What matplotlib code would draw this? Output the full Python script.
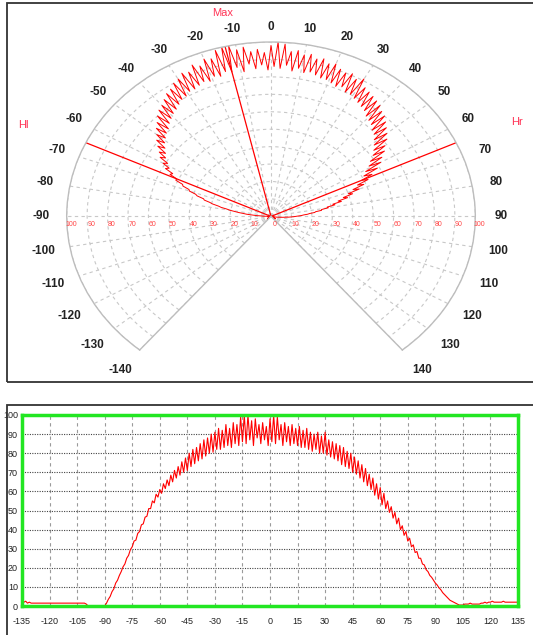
import numpy as np
import matplotlib
matplotlib.use("Agg")
import matplotlib.pyplot as plt
from matplotlib.patches import Rectangle
from matplotlib import transforms

plt.rcParams['font.family'] = ['Liberation Sans', 'DejaVu Sans']
plt.rcParams['axes.unicode_minus'] = False

# measured intensity, one value per degree from -135 to 135
left_tail = [2.5, 2, 2.5, 1.5, 2, 1.5, 1.5, 1.5, 1.5, 1.5,
             1.5, 1.5, 1.5, 1.5, 1.5, 1.5, 1.5, 1.5, 1.5, 1.5,
             1.5, 1.5, 1.5, 1.5, 1.5, 1.5, 1.5, 1.5, 1.5, 1.5,
             1.5, 1.5, 1.5, 1.5, 1.5, 1]                     # -135 .. -100
gap = [0, 0, 0, 0, 0, 0, 0, 0, 0]                             # -99 .. -91
main_lobe = [0, 1.5, 3.5, 5, 7.5, 9, 12, 13.5, 16, 18,        # -90
             20.5, 22, 25, 26.5, 29.5, 31, 34, 34.5, 38, 39,  # -80
             42.5, 43, 46.5, 47, 51, 51, 55, 54, 58.5, 57,    # -70
             61, 59, 64, 61.5, 66, 63, 68.5, 65, 71, 67,      # -60
             73, 68.5, 75.5, 70, 77.5, 71, 80, 73, 82, 74.5,  # -50
             83, 76, 85, 77, 87, 78.5, 88, 80, 90, 80.5,      # -40
             91, 82, 93, 82, 92, 83, 95, 84, 93, 83,          # -30
             96, 85, 95, 84, 99, 86, 100, 85, 100, 87,        # -20
             97, 84, 98, 88, 95, 85, 96, 87, 94, 84,          # -10
             98, 86, 100, 85, 99, 87, 95, 84, 96, 86,         # 0
             94, 84, 95, 85, 93, 84, 94, 83, 92, 83,          # 10
             93, 82, 91, 81, 90, 82, 91, 80, 89, 80,          # 20
             91, 79, 87, 78, 86, 77, 85, 76, 84, 74,          # 30
             83, 73, 81, 72, 80, 70, 78, 69, 76, 67,          # 40
             74, 65, 72, 63, 69, 61, 67, 58, 64, 56,          # 50
             62, 53, 59, 51, 55, 49, 52, 46, 49, 43,          # 60
             46, 40, 42, 37, 39, 34, 35.5, 31, 32, 28,        # 70
             28.5, 25, 25, 22, 21.5, 19, 18, 16, 15, 13.5,    # 80
             12, 11, 9.5, 8.5, 7, 6, 5, 4, 3, 2.5,            # 90
             2, 1.5, 1, 0.5, 0.5, 0.5]                        # 100 .. 105
right_tail = [1, 1, 1, 1.5, 1, 1, 1, 1, 1, 1.5,
              1.5, 2, 1.5, 2, 2, 2.5, 2, 2, 2, 2,
              2, 2.5, 2, 2, 2, 2, 2, 2, 2, 2]                 # 106 .. 135

angles = np.arange(-135, 136)
intensity = np.array(left_tail + gap + main_lobe + right_tail, dtype=float)

max_angle = -13
hl_angle = -65
hr_angle = 65
theta_ticks = np.arange(-140, 141, 10)
r_ticks = np.arange(10, 101, 10)
x_ticks = np.arange(-135, 136, 15)
y_ticks = np.arange(0, 101, 10)

W, H = 533, 635
fig = plt.figure(figsize=(W / 100, H / 100), dpi=100)

# panel frames
fig.patches.append(Rectangle((7 / W, 1 - 382 / H), 1, 379 / H, transform=fig.transFigure,
                             fill=False, ec='#333333', lw=1.3))
fig.patches.append(Rectangle((7 / W, -0.01), 1, 1 - 405 / H + 0.01, transform=fig.transFigure,
                             fill=False, ec='#333333', lw=1.3))

# ---- polar panel (stretched horizontally like the original screen)
ax = fig.add_axes([66 / W, 1 - 371 / H, 410 / W, 350 / H], projection='polar')
ax.set_theta_zero_location('N')
ax.set_theta_direction(-1)
ax.set_thetamin(-140)
ax.set_thetamax(140)
ax.set_rlim(0, 100)
ax.set_aspect('auto')

ax.set_thetagrids(theta_ticks, labels=[''] * len(theta_ticks))
ax.set_rgrids(r_ticks, labels=[''] * len(r_ticks))
ax.grid(color='#c8c8c8', ls=(0, (3, 3)), lw=0.8)
for r, gl in zip(r_ticks, ax.get_ygridlines()):
    if r == 50:
        gl.set_linestyle('-')
        gl.set_color('#bdbdbd')
for name in ('polar', 'start', 'end'):
    ax.spines[name].set_color('#bdbdbd')
    ax.spines[name].set_linewidth(1.0)
ax.spines['inner'].set_visible(False)

# angle labels around the rim
for t in theta_ticks:
    ax.text(np.radians(t), 108.5 + 0.045 * abs(t), str(t), color='#222222',
            fontsize=8.5, fontweight='bold', ha='center', va='center', clip_on=False)

# radial labels along the horizontal axis
off = ax.transData + transforms.ScaledTranslation(3 / 72, -6 / 72, fig.dpi_scale_trans)
for r in r_ticks:
    for side in (-90, 90):
        ax.text(np.radians(side), r, str(r), transform=off, color='#ff4444',
                fontsize=5, ha='center', va='center')
ax.text(0, 0, '0', transform=off, color='#ff4444', fontsize=5, ha='center', va='center')

ax.plot(np.radians(angles), intensity, color='red', lw=0.7)
for a in (max_angle, hl_angle, hr_angle):
    ax.plot(np.radians([a, a]), [0, 100], color='red', lw=0.9)

lab_kw = dict(color='#ff3355', fontsize=8, ha='center', va='center', clip_on=False)
ax.text(np.radians(max_angle + 1.5), 119, 'Max', **lab_kw)
ax.text(np.radians(hl_angle - 1.6), 132, 'Hl', **lab_kw)
ax.text(np.radians(hr_angle + 0.8), 132, 'Hr', **lab_kw)

# ---- linear panel
bx = fig.add_axes([22 / W, 1 - 606 / H, 496 / W, 191 / H])
bx.plot(angles, intensity, color='red', lw=0.8)
bx.set_xlim(-135, 135)
bx.set_ylim(0, 100)
bx.set_xticks(x_ticks)
bx.set_yticks(y_ticks)
bx.tick_params(length=0, labelsize=6.5, colors='#222222')
bx.tick_params(axis='x', pad=8)
bx.tick_params(axis='y', pad=3)
bx.xaxis.grid(True, color='#9a9a9a', ls=(0, (3, 3)), lw=0.8)
bx.yaxis.grid(True, color='#444444', ls=(0, (1, 1.2)), lw=0.8)
for s in bx.spines.values():
    s.set_color('#22e622')
    s.set_linewidth(2.5)

fig.savefig('out.png', dpi=100)
